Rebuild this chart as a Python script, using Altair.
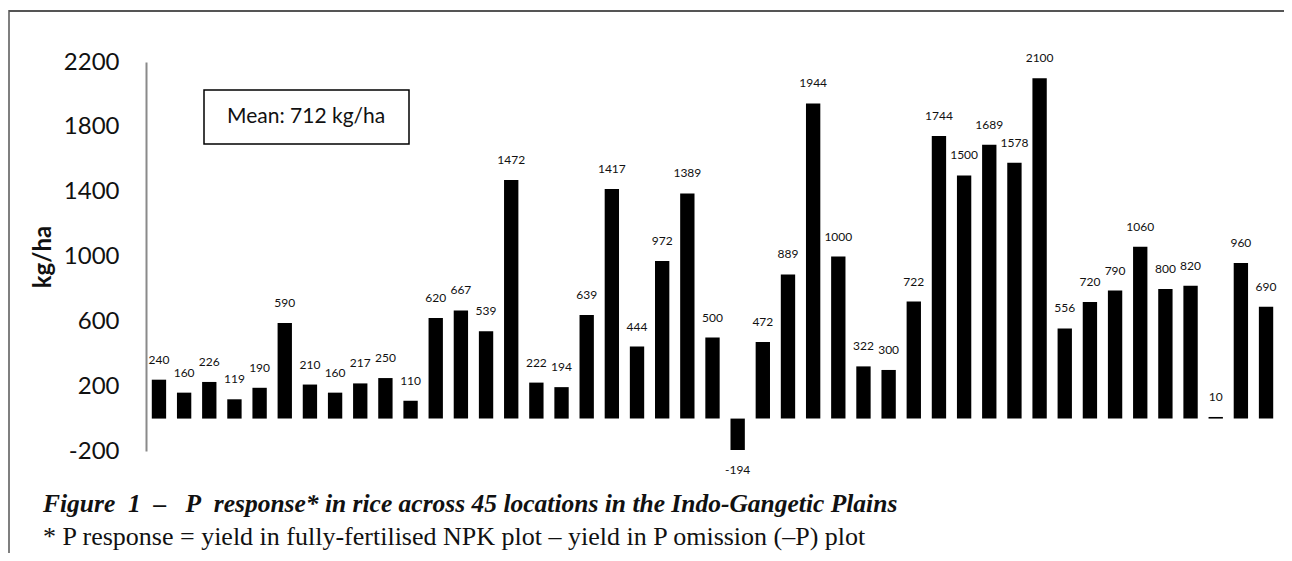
import altair as alt
import pandas as pd

locations = list(range(1, 46))
responses = [240, 160, 226, 119, 190, 590, 210, 160, 217, 250, 110, 620, 667, 539, 1472,
             222, 194, 639, 1417, 444, 972, 1389, 500, -194, 472, 889, 1944, 1000, 322, 300,
             722, 1744, 1500, 1689, 1578, 2100, 556, 720, 790, 1060, 800, 820, 10, 960, 690]
y_ticks = [-200, 200, 600, 1000, 1400, 1800, 2200]
mean_text = "Mean: 712 kg/ha"
caption1 = "Figure\u00a0 1\u00a0 –\u00a0\u00a0 P\u00a0 response* in rice across 45 locations in the Indo-Gangetic Plains"
caption2 = "* P response = yield in fully-fertilised NPK plot – yield in P omission (–P) plot"

df = pd.DataFrame({"loc": locations, "val": responses})

W, H = 1133, 389
xs = alt.X("loc:O", axis=None,
           scale=alt.Scale(paddingInner=0.43, paddingOuter=0.23))
ys = alt.Y("val:Q",
           scale=alt.Scale(domain=[-200, 2200], nice=False, zero=False),
           axis=alt.Axis(values=y_ticks, title="kg/ha", grid=False, ticks=False,
                         labelExpr="'' + datum.value",
                         domainColor="#8a8a8a", domainWidth=2,
                         labelFont="Lato", labelFontSize=24, labelColor="#111",
                         labelPadding=27,
                         titleFont="Lato", titleFontSize=24, titleFontWeight="bold",
                         titleColor="#111", titlePadding=8))

base = alt.Chart(df).transform_calculate(lab="'' + datum.val")
bars = base.mark_bar(color="black").encode(x=xs, y=ys, y2=alt.datum(0))

lab_pos = base.transform_filter("datum.val >= 0").mark_text(
    font="Lato", fontSize=12, color="#111", baseline="middle", dy=-20
).encode(x=xs, y=alt.Y("val:Q"), text="lab:N")
lab_neg = base.transform_filter("datum.val < 0").mark_text(
    font="Lato", fontSize=12, color="#111", baseline="middle", dy=20
).encode(x=xs, y=alt.Y("val:Q"), text="lab:N")

one = pd.DataFrame({"k": [0]})
ann = alt.Chart(one)
box = ann.mark_rect(fill="white", stroke="black", strokeWidth=1.5).encode(
    x=alt.value(58), x2=alt.value(263), y=alt.value(28), y2=alt.value(82))
box_txt = ann.mark_text(font="Lato", fontSize=21, color="#111", align="left",
                        baseline="middle", text=mean_text).encode(
    x=alt.value(81), y=alt.value(55))

cap1 = ann.mark_text(font="Liberation Serif", fontSize=25.5, fontStyle="italic",
                     fontWeight="bold", color="#111", align="left",
                     baseline="alphabetic", text=caption1).encode(
    x=alt.value(-103), y=alt.value(450))
cap2 = ann.mark_text(font="Liberation Serif", fontSize=26, color="#111", align="left",
                     baseline="alphabetic", text=caption2).encode(
    x=alt.value(-103), y=alt.value(483))

frame_top = ann.mark_rule(color="#555", strokeWidth=2).encode(
    x=alt.value(-137), x2=alt.value(1140), y=alt.value(-51))
frame_left = ann.mark_rule(color="#555", strokeWidth=1.5).encode(
    x=alt.value(-137), y=alt.value(-52), y2=alt.value(495))

chart = alt.layer(bars, lab_pos, lab_neg, box, box_txt, cap1, cap2, frame_top, frame_left).properties(
    width=W, height=H,
    padding={"left": 138, "top": 54, "right": 5, "bottom": 102},
    autosize="none",
    background="white",
).configure_view(stroke=None)

chart.save("out.html", embed_options={"renderer": "svg", "actions": False})
